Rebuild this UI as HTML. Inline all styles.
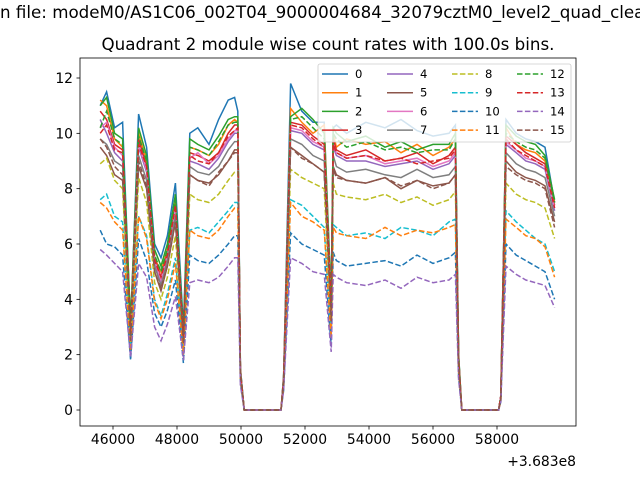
<!DOCTYPE html>
<html><head><meta charset="utf-8"><style>
body{margin:0;background:#fff;}
svg{display:block;font-family:"DejaVu Sans","Liberation Sans",sans-serif;}
</style></head><body>
<svg id="chart" width="640" height="480" viewBox="0 0 640 480">
<text x="0" y="18" font-size="16.7">n file: modeM0/AS1C06_002T04_9000004684_32079cztM0_level2_quad_clean.evt</text>
<text x="328" y="50" font-size="16.7" text-anchor="middle">Quadrant 2 module wise count rates with 100.0s bins.</text>
<g id="plot"></g>
</svg>
<script>
const times=[45600,45800,46050,46300,46550,46800,47050,47300,47500,47700,47950,48200,48400,48650,49000,49300,49600,49800,49900,49980,50100,51250,51330,51550,51900,52250,52600,52820,52880,52980,53300,53900,54500,55000,55500,56000,56500,56700,56800,56900,58050,58120,58280,58600,58900,59200,59500,59800];
const s0=[11.0,11.5,10.2,10.4,3.0,10.7,9.5,6.0,5.5,6.3,8.2,3.0,10.0,10.2,9.6,10.5,11.2,11.3,10.8,1.5,0,0,1.2,11.8,10.8,10.4,10.4,4.0,10.2,10.3,10.0,10.4,10.2,10.5,10.1,9.9,10.0,10.3,2.0,0,0,0.5,10.5,10.0,9.8,9.7,9.5,7.5];
const s1=[11.2,11.0,9.8,9.5,2.8,10.0,9.0,5.5,5.0,5.8,7.5,2.5,9.5,9.4,9.2,9.6,10.3,10.5,10.4,1.4,0,0,1.1,10.9,10.4,10.0,10.3,3.8,10.0,9.5,9.8,9.6,9.7,9.3,9.6,9.2,9.5,9.8,1.9,0,0,0.5,10.2,9.6,9.4,9.3,9.0,7.5];
const s2=[11.0,11.3,10.0,9.8,3.2,10.2,9.2,5.8,5.2,6.0,7.8,2.8,9.8,9.6,9.4,9.9,10.5,10.6,10.6,1.5,0,0,1.2,10.6,10.9,10.5,10.0,3.9,10.2,10.0,9.7,9.9,9.5,9.7,9.4,9.6,9.6,10.0,2.0,0,0,0.5,10.3,9.9,9.7,9.6,9.2,7.6];
const s3=[10.8,10.5,9.6,9.4,2.9,9.8,8.8,5.5,4.8,5.7,7.4,2.6,9.3,9.2,9.0,9.3,10.0,10.3,10.3,1.4,0,0,1.1,10.4,10.3,9.9,9.6,3.7,9.8,9.4,9.2,9.4,9.0,9.1,9.3,8.9,9.2,9.5,1.9,0,0,0.5,9.9,9.6,9.3,9.1,8.9,7.4];
const s4=[10.5,10.0,9.3,9.0,2.7,9.5,8.6,5.3,4.6,5.5,7.2,2.5,9.0,8.9,8.7,9.1,9.7,10.0,10.0,1.4,0,0,1.1,10.1,10.0,9.6,9.4,3.5,9.5,9.2,9.0,9.0,8.8,8.9,9.0,8.7,8.9,9.2,1.8,0,0,0.5,9.6,9.3,9.0,8.9,8.7,7.2];
const s5=[9.5,9.2,8.5,8.3,2.5,8.8,8.0,5.0,4.3,5.2,6.8,2.4,8.5,8.3,8.2,8.5,9.0,9.4,9.4,1.3,0,0,1.0,9.5,9.2,8.9,8.6,3.3,8.8,8.5,8.3,8.2,8.4,8.0,8.3,8.1,8.2,8.5,1.7,0,0,0.4,9.0,8.6,8.4,8.3,8.1,6.8];
const s6=[10.2,10.4,9.5,9.2,2.8,9.6,8.7,5.4,4.7,5.6,7.3,2.5,9.1,9.3,8.9,9.2,9.8,10.1,10.1,1.4,0,0,1.1,10.2,10.1,9.7,9.5,3.6,9.6,9.3,9.1,9.2,8.9,9.0,9.1,8.8,9.0,9.3,1.8,0,0,0.5,9.7,9.4,9.1,9.0,8.8,7.3];
const s7=[9.8,9.6,9.0,8.8,2.6,9.2,8.3,5.2,4.5,5.4,7.0,2.4,8.8,8.6,8.5,8.8,9.4,9.7,9.7,1.3,0,0,1.0,9.8,9.6,9.2,9.0,3.4,9.2,8.8,8.6,8.7,8.5,8.4,8.7,8.4,8.5,8.8,1.7,0,0,0.4,9.3,8.9,8.7,8.6,8.4,7.0];
const s8=[8.9,9.1,8.3,8.0,2.3,8.4,7.5,4.6,4.0,4.8,6.3,2.2,7.8,7.6,7.5,7.8,8.3,8.6,8.6,1.2,0,0,0.9,8.7,8.4,8.2,8.0,3.0,8.2,7.8,7.7,7.6,7.8,7.5,7.7,7.4,7.6,7.9,1.6,0,0,0.4,8.2,7.8,7.6,7.5,7.3,6.2];
const s9=[7.6,7.8,7.0,6.8,2.0,7.0,6.3,4.0,3.4,4.2,5.5,2.0,6.5,6.6,6.4,6.8,7.2,7.5,7.5,1.1,0,0,0.8,7.6,7.4,7.0,6.6,2.6,6.7,6.6,6.3,6.4,6.2,6.6,6.5,6.3,6.8,6.9,1.4,0,0,0.3,7.2,6.8,6.5,6.2,6.0,5.0];
const s10=[6.5,6.0,5.9,5.6,1.8,6.2,5.4,3.5,3.0,3.6,4.7,1.7,5.6,5.4,5.3,5.6,6.0,6.3,6.3,1.0,0,0,0.7,6.4,6.0,5.8,5.6,2.3,5.7,5.4,5.2,5.3,5.4,5.2,5.6,5.3,5.5,5.7,1.2,0,0,0.3,6.0,5.6,5.4,5.2,5.0,4.0];
const s11=[7.5,7.3,6.8,6.5,2.0,7.0,6.2,3.9,3.3,4.0,5.3,2.0,6.5,6.3,6.2,6.5,7.0,7.3,7.3,1.1,0,0,0.8,7.5,7.0,6.8,6.5,2.6,6.6,6.4,6.3,6.2,6.6,6.3,6.5,6.4,6.6,6.7,1.4,0,0,0.3,6.9,6.6,6.3,6.2,5.9,4.8];
const s12=[10.2,10.8,9.8,9.6,3.0,9.9,9.0,5.6,5.0,5.8,7.6,2.7,9.5,9.4,9.2,9.7,10.3,10.4,10.4,1.4,0,0,1.1,10.5,10.6,10.2,9.8,3.8,10.0,9.8,9.5,9.7,9.4,9.5,9.3,9.4,9.4,9.8,1.9,0,0,0.5,10.0,9.7,9.5,9.4,9.1,7.5];
const s13=[10.0,10.3,9.4,9.3,2.8,9.6,8.8,5.4,4.8,5.6,7.4,2.6,9.2,9.0,8.9,9.3,9.9,10.1,10.2,1.4,0,0,1.1,10.3,10.2,9.8,9.5,3.6,9.6,9.3,9.1,9.2,9.0,9.1,8.9,9.0,9.1,9.4,1.8,0,0,0.5,9.8,9.4,9.2,9.0,8.8,7.3];
const s14=[5.8,5.6,5.3,5.0,1.9,5.3,4.8,3.0,2.5,3.1,4.1,1.8,4.6,4.7,4.6,4.8,5.2,5.5,5.5,0.9,0,0,0.7,5.5,5.3,5.0,4.9,2.1,4.9,4.8,4.6,4.5,4.7,4.4,4.8,4.6,4.7,4.9,1.1,0,0,0.3,5.2,4.9,4.7,4.6,4.5,3.7];
const s15=[9.8,9.5,8.8,8.5,2.5,9.0,8.1,5.0,4.4,5.2,6.8,2.4,8.5,8.3,8.1,8.6,9.0,9.3,9.3,1.3,0,0,1.0,9.5,9.1,8.9,8.6,3.2,8.7,8.4,8.3,8.2,8.4,8.1,8.3,8.0,8.2,8.5,1.7,0,0,0.4,8.8,8.5,8.3,8.2,8.0,6.6];
const seriesLabels=["0","1","2","3","4","5","6","7","8","9","10","11","12","13","14","15"];
const xTicks=[46000,48000,50000,52000,54000,56000,58000];
const yTicks=[0,2,4,6,8,10,12];

const all=[s0,s1,s2,s3,s4,s5,s6,s7,s8,s9,s10,s11,s12,s13,s14,s15];
const colors=["#1f77b4","#ff7f0e","#2ca02c","#d62728","#9467bd","#8c564b","#e377c2","#7f7f7f","#bcbd22","#17becf","#1f77b4","#ff7f0e","#2ca02c","#d62728","#9467bd","#8c564b"];
const L=80,R=576,T=58,B=426;
const X=v=>113+(v-46000)*(497-113)/12000;
const Y=v=>410-v*(410-78)/12;
const NS="http://www.w3.org/2000/svg";
const g=document.getElementById('plot');
function mk(tag,attrs){const e=document.createElementNS(NS,tag);for(const k in attrs)e.setAttribute(k,attrs[k]);g.appendChild(e);return e;}
const clip=document.createElementNS(NS,'clipPath');clip.setAttribute('id','c');
const cr=document.createElementNS(NS,'rect');cr.setAttribute('x',L);cr.setAttribute('y',T);cr.setAttribute('width',R-L);cr.setAttribute('height',B-T);clip.appendChild(cr);g.appendChild(clip);
all.forEach((s,i)=>{
  const p=mk('polyline',{points:s.map((v,j)=>X(times[j]).toFixed(1)+','+Y(v).toFixed(1)).join(' '),fill:'none',stroke:colors[i],'stroke-width':1.5,'clip-path':'url(#c)','stroke-dasharray':i>=8?'5.5,2.4':'none'});
  
  
});
const frame=mk('rect',{x:L,y:T,width:R-L,height:B-T,fill:'none',stroke:'#000','stroke-width':0.8});


xTicks.forEach(t=>{
  const l=mk('line',{x1:X(t),x2:X(t),y1:B,y2:B+3.5,stroke:'#000','stroke-width':0.8});
  
  
  const tx=mk('text',{x:X(t),y:B+18,'font-size':13.9,'text-anchor':'middle'});tx.textContent=t;
  
  
});
yTicks.forEach(t=>{
  const l=mk('line',{x1:L-3.5,x2:L,y1:Y(t),y2:Y(t),stroke:'#000','stroke-width':0.8});
  
  
  const tx=mk('text',{x:L-7,y:Y(t)+5,'font-size':13.9,'text-anchor':'end'});tx.textContent=t;
  
  
});
const off=mk('text',{x:R,y:466,'font-size':13.9,'text-anchor':'end'});off.textContent='+3.683e8';


const lb=mk('rect',{x:318,y:64,width:253,height:78,rx:2,fill:'#fff','fill-opacity':0.8,stroke:'#ccc','stroke-width':0.8});


all.forEach((s,i)=>{
  const col=Math.floor(i/4),row=i%4;
  const x0=322+col*65,y0=74+row*18.7;
  const l=mk('line',{x1:x0,x2:x0+26,y1:y0,y2:y0,stroke:colors[i],'stroke-width':1.5,'stroke-dasharray':i>=8?'5.5,2.4':'none'});
  
  
  const tx=mk('text',{x:x0+33,y:y0+4,'font-size':11.6});tx.textContent=seriesLabels[i];
  
  
});
</script>
</body></html>
